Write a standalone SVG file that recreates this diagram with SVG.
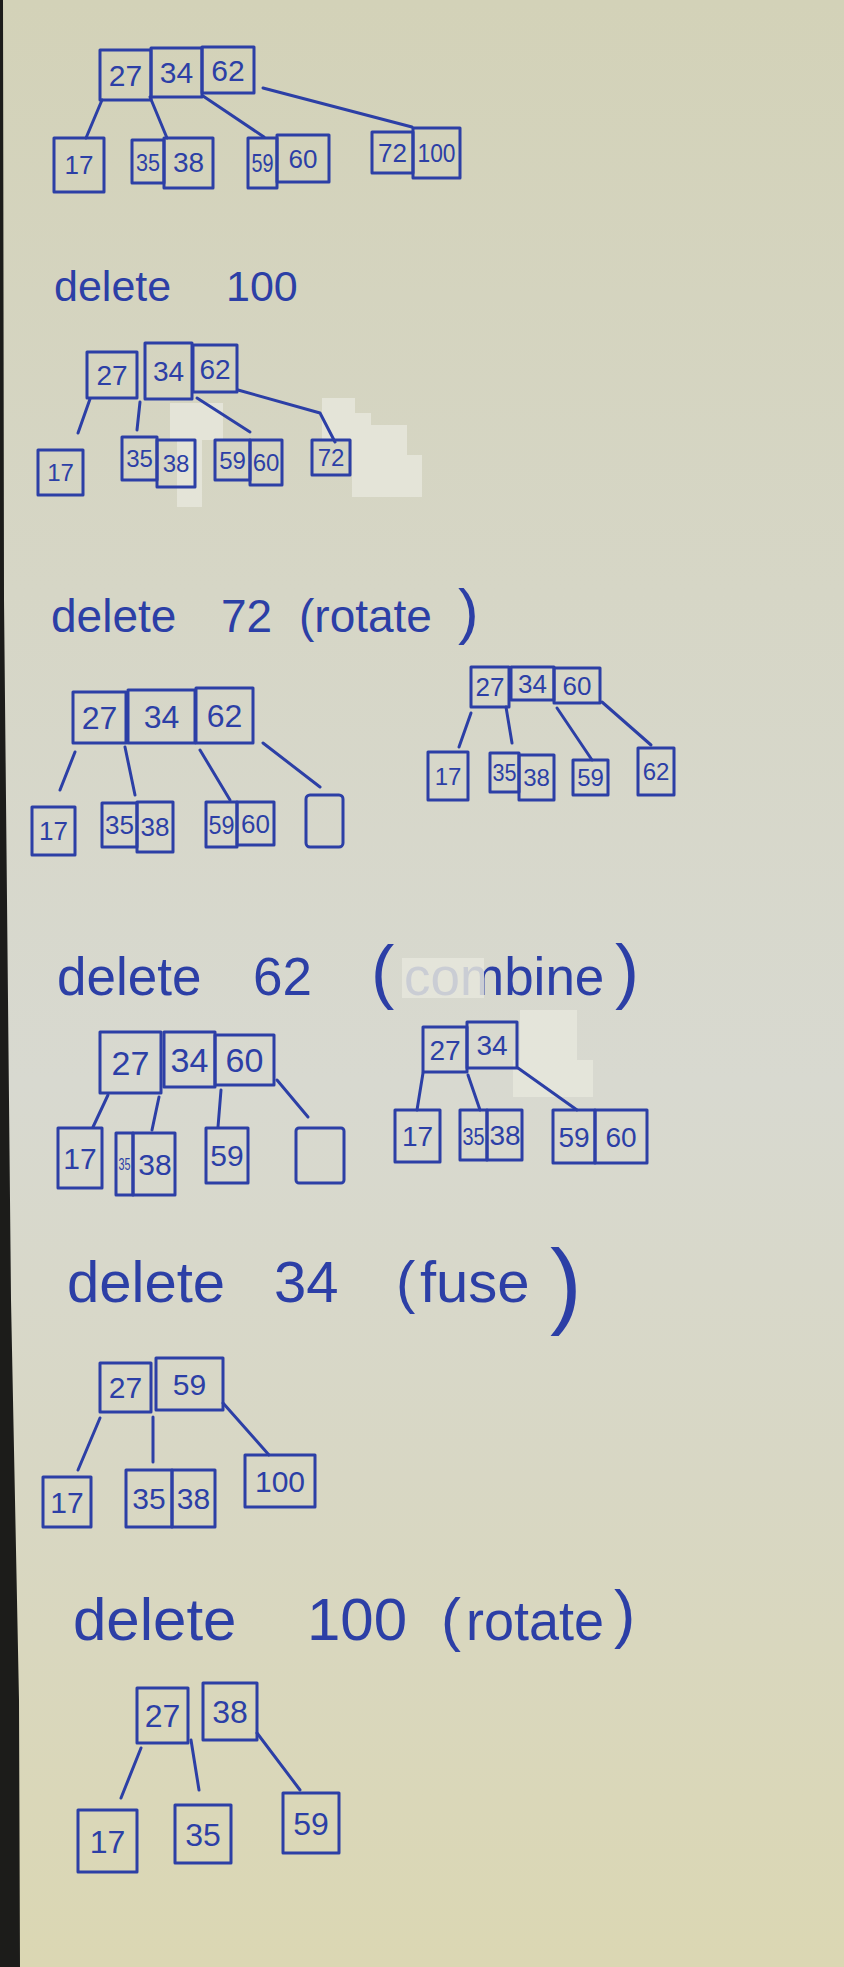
<svg xmlns="http://www.w3.org/2000/svg" width="844" height="1967" viewBox="0 0 844 1967">
<defs>
<linearGradient id="paper" x1="0" y1="0" x2="0" y2="1">
<stop offset="0" stop-color="#d3d2b8"/>
<stop offset="0.3" stop-color="#d6d6c6"/>
<stop offset="0.55" stop-color="#d8d9d0"/>
<stop offset="0.75" stop-color="#d8d7c4"/>
<stop offset="1" stop-color="#dbd7b3"/>
</linearGradient>
<style>
.box{fill:none;stroke:#2c3fa6;stroke-width:3;stroke-linejoin:round;stroke-linecap:round}
.edge{fill:none;stroke:#2c3fa6;stroke-width:3;stroke-linecap:round;stroke-linejoin:round}
.k{font-family:"Liberation Sans","DejaVu Sans",sans-serif;fill:#2c3fa6;text-anchor:middle}
.h{font-family:"Liberation Sans","DejaVu Sans",sans-serif;fill:#2c3fa6}
.tape{fill:#e6e6dc;opacity:0.85}
</style>
</defs>
<rect x="0" y="0" width="844" height="1967" fill="url(#paper)"/>
<polygon points="0,0 3,0 4,600 8,1000 11,1300 19,1700 20,1967 0,1967" fill="#1c1c1a"/>

<!-- tape patches -->
<polygon class="tape" points="170,403 223,403 223,440 202,440 202,507 177,507 177,440 170,440"/>
<polygon class="tape" points="322,398 355,398 355,413 371,413 371,425 407,425 407,455 422,455 422,497 352,497 352,440 322,440"/>
<polygon class="tape" points="520,1010 577,1010 577,1060 593,1060 593,1097 513,1097 513,1060 520,1060"/>

<!-- headings -->
<g id="h1"><text class="h" font-size="43" y="301"><tspan x="54">delete</tspan><tspan x="226">100</tspan></text></g>
<g id="h2"><text class="h" font-size="46" y="632"><tspan x="51">delete</tspan><tspan x="221">72</tspan><tspan x="299">(rotate</tspan><tspan x="458" font-size="62">)</tspan></text></g>
<g id="h3"><text class="h" font-size="53" y="995"><tspan x="57">delete</tspan><tspan x="253">62</tspan><tspan x="371" font-size="70">(</tspan><tspan x="404">combine</tspan><tspan x="615" font-size="72">)</tspan></text>
<rect class="tape" x="402" y="958" width="82" height="40" opacity="0.6"/></g>
<g id="h4"><text class="h" font-size="58" y="1302"><tspan x="67">delete</tspan><tspan x="274">34</tspan><tspan x="396">(</tspan><tspan x="420">fuse</tspan></text>
<text class="h" font-size="95" x="550" y="1316">)</text></g>
<g id="h5"><text class="h" font-size="60" y="1640"><tspan x="73">delete</tspan><tspan x="307">100</tspan><tspan x="441">(</tspan></text>
<text class="h" font-size="56" y="1640" x="466" textLength="138" lengthAdjust="spacingAndGlyphs">rotate</text>
<text class="h" font-size="64" y="1636" x="614">)</text></g>

<!-- connectors -->
<g id="connectors">
<path class="edge" d="M102,100 L86,138"/>
<path class="edge" d="M150,97 L167,138"/>
<path class="edge" d="M203,96 L264,137"/>
<path class="edge" d="M263,88 L412,127"/>

<path class="edge" d="M90,399 L78,433"/>
<path class="edge" d="M140,402 L137,430"/>
<path class="edge" d="M197,398 L250,432"/>
<path class="edge" d="M238,390 L320,413 L335,442"/>

<path class="edge" d="M75,752 L60,790"/>
<path class="edge" d="M125,747 L135,795"/>
<path class="edge" d="M200,750 L230,800"/>
<path class="edge" d="M263,743 L320,787"/>

<path class="edge" d="M471,713 L459,747"/>
<path class="edge" d="M506,707 L512,743"/>
<path class="edge" d="M557,708 L592,760"/>
<path class="edge" d="M602,702 L651,745"/>

<path class="edge" d="M108,1095 L93,1127"/>
<path class="edge" d="M159,1097 L152,1130"/>
<path class="edge" d="M221,1090 L218,1127"/>
<path class="edge" d="M277,1080 L308,1117"/>

<path class="edge" d="M423,1073 L417,1110"/>
<path class="edge" d="M468,1075 L480,1110"/>
<path class="edge" d="M518,1068 L577,1110"/>

<path class="edge" d="M100,1418 L78,1470"/>
<path class="edge" d="M153,1417 L153,1462"/>
<path class="edge" d="M223,1403 L269,1455"/>

<path class="edge" d="M141,1748 L121,1798"/>
<path class="edge" d="M191,1740 L199,1790"/>
<path class="edge" d="M257,1733 L300,1790"/>
</g>

<!-- Tree 1 -->
<g id="t1-root">
<rect class="box" x="100" y="50" width="51" height="50"/><text class="k" x="125.5" y="86" font-size="30">27</text>
<rect class="box" x="151" y="48" width="51" height="49"/><text class="k" x="176.5" y="83" font-size="30">34</text>
<rect class="box" x="202" y="47" width="52" height="46"/><text class="k" x="228" y="81" font-size="30">62</text>
</g>
<g id="t1-n17"><rect class="box" x="54" y="138" width="50" height="54"/><text class="k" x="79" y="174" font-size="26">17</text></g>
<g id="t1-n3538">
<rect class="box" x="132" y="140" width="32" height="43"/><text class="k" x="148" y="171" font-size="24" textLength="24" lengthAdjust="spacingAndGlyphs">35</text>
<rect class="box" x="164" y="138" width="49" height="50"/><text class="k" x="188.5" y="172" font-size="28">38</text>
</g>
<g id="t1-n5960">
<rect class="box" x="248" y="138" width="29" height="50"/><text class="k" x="262.5" y="172" font-size="26" textLength="22" lengthAdjust="spacingAndGlyphs">59</text>
<rect class="box" x="277" y="135" width="52" height="47"/><text class="k" x="303" y="168" font-size="26">60</text>
</g>
<g id="t1-n72100">
<rect class="box" x="372" y="132" width="41" height="41"/><text class="k" x="392.5" y="162" font-size="26">72</text>
<rect class="box" x="413" y="128" width="47" height="50"/><text class="k" x="436.5" y="162" font-size="26" textLength="38" lengthAdjust="spacingAndGlyphs">100</text>
</g>

<!-- Tree 2 -->
<g id="t2-root">
<rect class="box" x="87" y="352" width="50" height="46"/><text class="k" x="112" y="385" font-size="28">27</text>
<rect class="box" x="145" y="343" width="47" height="56"/><text class="k" x="168.5" y="381" font-size="28">34</text>
<rect class="box" x="193" y="345" width="44" height="47"/><text class="k" x="215" y="379" font-size="28">62</text>
</g>
<g id="t2-n17"><rect class="box" x="38" y="450" width="45" height="45"/><text class="k" x="60.5" y="481" font-size="24">17</text></g>
<g id="t2-n3538">
<rect class="box" x="122" y="437" width="35" height="43"/><text class="k" x="139.5" y="467" font-size="24">35</text>
<rect class="box" x="157" y="440" width="38" height="47"/><text class="k" x="176" y="472" font-size="24">38</text>
</g>
<g id="t2-n5960">
<rect class="box" x="215" y="440" width="35" height="40"/><text class="k" x="232.5" y="469" font-size="24">59</text>
<rect class="box" x="250" y="440" width="32" height="45"/><text class="k" x="266" y="471" font-size="24">60</text>
</g>
<g id="t2-n72"><rect class="box" x="312" y="440" width="38" height="35"/><text class="k" x="331" y="466" font-size="24">72</text></g>

<!-- Tree 3 left -->
<g id="t3a-root">
<rect class="box" x="73" y="692" width="53" height="51"/><text class="k" x="99.5" y="729" font-size="32">27</text>
<rect class="box" x="128" y="690" width="67" height="53"/><text class="k" x="161.5" y="728" font-size="32">34</text>
<rect class="box" x="196" y="688" width="57" height="55"/><text class="k" x="224.5" y="727" font-size="32">62</text>
</g>
<g id="t3a-n17"><rect class="box" x="32" y="807" width="43" height="48"/><text class="k" x="53.5" y="840" font-size="26">17</text></g>
<g id="t3a-n3538">
<rect class="box" x="102" y="803" width="35" height="44"/><text class="k" x="119.5" y="834" font-size="26">35</text>
<rect class="box" x="137" y="802" width="36" height="50"/><text class="k" x="155" y="836" font-size="26">38</text>
</g>
<g id="t3a-n5960">
<rect class="box" x="206" y="802" width="31" height="45"/><text class="k" x="221.5" y="834" font-size="26" textLength="26" lengthAdjust="spacingAndGlyphs">59</text>
<rect class="box" x="237" y="802" width="37" height="43"/><text class="k" x="255.5" y="833" font-size="26">60</text>
</g>
<g id="t3a-empty"><rect class="box" x="306" y="795" width="37" height="52" rx="4"/></g>

<!-- Tree 3 right -->
<g id="t3b-root">
<rect class="box" x="471" y="667" width="38" height="40"/><text class="k" x="490" y="696" font-size="26">27</text>
<rect class="box" x="511" y="667" width="43" height="33"/><text class="k" x="532.5" y="693" font-size="26">34</text>
<rect class="box" x="554" y="668" width="46" height="35"/><text class="k" x="577" y="695" font-size="26">60</text>
</g>
<g id="t3b-n17"><rect class="box" x="428" y="752" width="40" height="48"/><text class="k" x="448" y="785" font-size="24">17</text></g>
<g id="t3b-n3538">
<rect class="box" x="490" y="753" width="29" height="39"/><text class="k" x="504.5" y="781" font-size="24" textLength="24" lengthAdjust="spacingAndGlyphs">35</text>
<rect class="box" x="519" y="755" width="35" height="45"/><text class="k" x="536.5" y="786" font-size="24">38</text>
</g>
<g id="t3b-n59"><rect class="box" x="573" y="760" width="35" height="35"/><text class="k" x="590.5" y="786" font-size="24">59</text></g>
<g id="t3b-n62"><rect class="box" x="638" y="748" width="36" height="47"/><text class="k" x="656" y="780" font-size="24">62</text></g>

<!-- Tree 4 left -->
<g id="t4a-root">
<rect class="box" x="100" y="1032" width="61" height="61"/><text class="k" x="130.5" y="1075" font-size="34">27</text>
<rect class="box" x="164" y="1032" width="51" height="55"/><text class="k" x="189.5" y="1072" font-size="34">34</text>
<rect class="box" x="215" y="1035" width="59" height="50"/><text class="k" x="244.5" y="1072" font-size="34">60</text>
</g>
<g id="t4a-n17"><rect class="box" x="58" y="1128" width="44" height="60"/><text class="k" x="80" y="1169" font-size="30">17</text></g>
<g id="t4a-n3538">
<rect class="box" x="116" y="1133" width="17" height="62"/><text class="k" x="124.5" y="1170" font-size="16" textLength="12" lengthAdjust="spacingAndGlyphs">35</text>
<rect class="box" x="133" y="1133" width="42" height="62"/><text class="k" x="155" y="1175" font-size="30">38</text>
</g>
<g id="t4a-n59"><rect class="box" x="206" y="1128" width="42" height="55"/><text class="k" x="227" y="1166" font-size="30">59</text></g>
<g id="t4a-empty"><rect class="box" x="296" y="1128" width="48" height="55" rx="3"/></g>

<!-- Tree 4 right -->
<g id="t4b-root">
<rect class="box" x="423" y="1027" width="44" height="45"/><text class="k" x="445" y="1060" font-size="28">27</text>
<rect class="box" x="467" y="1022" width="50" height="46"/><text class="k" x="492" y="1055" font-size="28">34</text>
</g>
<g id="t4b-n17"><rect class="box" x="395" y="1110" width="45" height="52"/><text class="k" x="417.5" y="1146" font-size="28">17</text></g>
<g id="t4b-n3538">
<rect class="box" x="460" y="1110" width="27" height="50"/><text class="k" x="473.5" y="1145" font-size="24" textLength="22" lengthAdjust="spacingAndGlyphs">35</text>
<rect class="box" x="487" y="1110" width="35" height="50"/><text class="k" x="505" y="1145" font-size="28">38</text>
</g>
<g id="t4b-n5960">
<rect class="box" x="553" y="1110" width="42" height="53"/><text class="k" x="574" y="1147" font-size="28">59</text>
<rect class="box" x="595" y="1110" width="52" height="53"/><text class="k" x="621" y="1147" font-size="28">60</text>
</g>

<!-- Tree 5 -->
<g id="t5-root">
<rect class="box" x="100" y="1363" width="51" height="49"/><text class="k" x="125.5" y="1398" font-size="30">27</text>
<rect class="box" x="156" y="1358" width="67" height="52"/><text class="k" x="189.5" y="1395" font-size="30">59</text>
</g>
<g id="t5-n17"><rect class="box" x="43" y="1477" width="48" height="50"/><text class="k" x="67" y="1513" font-size="30">17</text></g>
<g id="t5-n3538">
<rect class="box" x="126" y="1470" width="46" height="57"/><text class="k" x="149" y="1509" font-size="30">35</text>
<rect class="box" x="172" y="1470" width="43" height="57"/><text class="k" x="193.5" y="1509" font-size="30">38</text>
</g>
<g id="t5-n100"><rect class="box" x="245" y="1455" width="70" height="52"/><text class="k" x="280" y="1492" font-size="30">100</text></g>

<!-- Tree 6 -->
<g id="t6-root">
<rect class="box" x="137" y="1688" width="51" height="55"/><text class="k" x="162.5" y="1727" font-size="32">27</text>
<rect class="box" x="203" y="1683" width="54" height="57"/><text class="k" x="230" y="1723" font-size="32">38</text>
</g>
<g id="t6-n17"><rect class="box" x="78" y="1810" width="59" height="62"/><text class="k" x="107.5" y="1853" font-size="32">17</text></g>
<g id="t6-n35"><rect class="box" x="175" y="1805" width="56" height="58"/><text class="k" x="203" y="1846" font-size="32">35</text></g>
<g id="t6-n59"><rect class="box" x="283" y="1793" width="56" height="60"/><text class="k" x="311" y="1835" font-size="32">59</text></g>
</svg>
